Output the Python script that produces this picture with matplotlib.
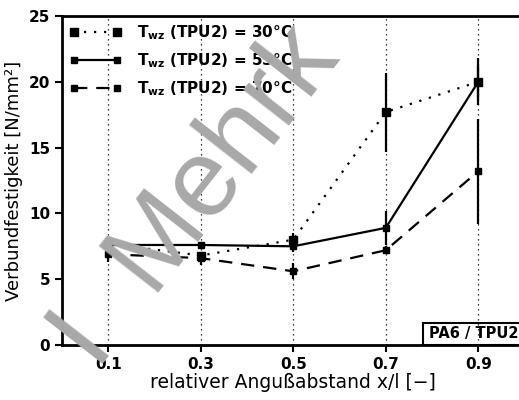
import matplotlib.pyplot as plt
from matplotlib.patches import Rectangle

plt.rcParams['font.family'] = 'DejaVu Sans'
plt.rcParams['font.weight'] = 'bold'

x = [0.1, 0.3, 0.5, 0.7, 0.9]
xticklabels = ['0.1', '0.3', '0.5', '0.7', '0.9']

t30 = [7.7, 6.8, 8.0, 17.7, 20.0]
t30_err = [0.4, 0.3, 0.5, 3.0, 1.2]
t55 = [7.6, 7.6, 7.5, 8.9, 20.0]
t55_err = [0.3, 0.2, 0.4, 1.3, 1.8]
t70 = [6.9, 6.6, 5.6, 7.2, 13.2]
t70_err = [0.6, 0.5, 0.6, 0.3, 4.0]

labels = [r'T$_{\mathbf{wz}}$ (TPU2) = 30°C',
          r'T$_{\mathbf{wz}}$ (TPU2) = 55°C',
          r'T$_{\mathbf{wz}}$ (TPU2) = 70°C']

fig = plt.figure(figsize=(5.19, 4.0), dpi=100)
ax = fig.add_axes([62/519, 55/400, 462.5/519, 329/400])
ax.patch.set_visible(False)

# watermark, drawn behind the chart
fig.text(197/519, 1 - 198/400, 'I  Mehrk', fontsize=79, color='#a8a8a8',
         rotation=52, rotation_mode='anchor', ha='center', va='center',
         fontweight='normal', family='Liberation Sans', zorder=0)

for xv in x:
    ax.axvline(xv, color='black', lw=0.9, ls=(0, (1, 3)), zorder=1)

styles = [(0, (1, 3.5)), '-', (0, (6, 4))]
sizes = [6, 5, 5]
for y, err, ls, ms, lab in zip([t30, t55, t70], [t30_err, t55_err, t70_err],
                                styles, sizes, labels):
    ax.plot(x, y, color='black', lw=1.6, ls=ls, marker='s', ms=ms,
            label=lab, zorder=3)
    ax.errorbar(x, y, yerr=err, fmt='none', ecolor='black', elinewidth=1.6,
                capsize=0, zorder=3)

ax.set_xlim(0, 1.0)
ax.set_ylim(0, 25)
ax.set_xticks(x)
ax.set_xticklabels(xticklabels)
ax.set_yticks([0, 5, 10, 15, 20, 25])
ax.tick_params(direction='out', length=5, width=1.5, labelsize=11)
for s in ['left', 'bottom', 'top']:
    ax.spines[s].set_linewidth(2)
ax.spines['right'].set_visible(False)

ax.set_xlabel('relativer Angußabstand x/l [−]', fontsize=13.5, labelpad=1)
ax.set_ylabel('Verbundfestigkeit [N/mm²]', fontsize=13, labelpad=4)

leg = ax.legend(loc='upper left', bbox_to_anchor=(0, 1), borderaxespad=0,
                fontsize=11, handlelength=3.4, handletextpad=1.0,
                frameon=True, fancybox=False, labelspacing=0.6,
                borderpad=0.5, numpoints=2, framealpha=0)
leg.get_frame().set_edgecolor('black')
leg.get_frame().set_linewidth(2)

ax.add_patch(Rectangle((0.78, 0), 0.3, 1.7, fill=False, lw=1.5, ec='black',
                       clip_on=False, zorder=4))
ax.text(0.793, 0.85, 'PA6 / TPU2', fontsize=10.5, va='center', ha='left', zorder=5)

fig.savefig('out.png', dpi=100)
